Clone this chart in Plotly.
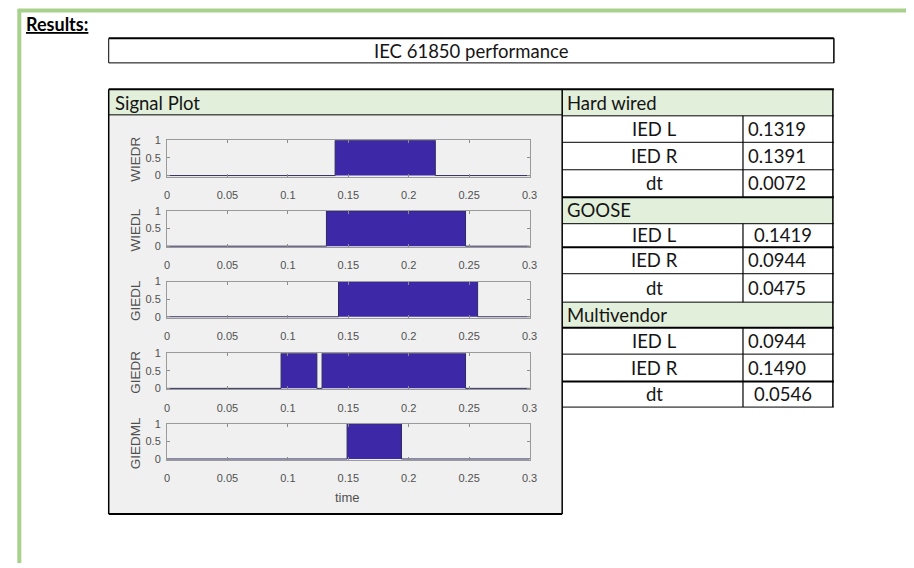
import plotly.graph_objects as go

W, H = 914, 568

# ---- data ----
signal_names = ["WIEDR", "WIEDL", "GIEDL", "GIEDR", "GIEDML"]
wiedr_t = [0, 0.1391, 0.222, 0.3]
wiedr_v = [0, 1, 0, 0]
wiedl_t = [0, 0.1319, 0.247, 0.3]
wiedl_v = [0, 1, 0, 0]
giedl_t = [0, 0.1419, 0.257, 0.3]
giedl_v = [0, 1, 0, 0]
giedr_t = [0, 0.0944, 0.124, 0.1283, 0.247, 0.3]
giedr_v = [0, 1, 0, 1, 0, 0]
giedml_t = [0, 0.1490, 0.194, 0.3]
giedml_v = [0, 1, 0, 0]
x_ticks = [0, 0.05, 0.1, 0.15, 0.2, 0.25, 0.3]
x_tick_labels = ["0", "0.05", "0.1", "0.15", "0.2", "0.25", "0.3"]
y_ticks = [0, 0.5, 1]
y_tick_labels = ["0", "0.5", "1"]

sections = ["Hard wired", "GOOSE", "Multivendor"]
row_labels = ["IED L", "IED R", "dt"]
hard_wired = ["0.1319", "0.1391", "0.0072"]
goose = ["0.1419", "0.0944", "0.0475"]
multivendor = ["0.0944", "0.1490", "0.0546"]

title_text = "IEC 61850 performance"
results_text = "Results:"
panel_title = "Signal Plot"
x_title = "time"

signals = [(wiedr_t, wiedr_v), (wiedl_t, wiedl_v), (giedl_t, giedl_v),
           (giedr_t, giedr_v), (giedml_t, giedml_v)]

# ---- helpers (window pixel -> paper fraction) ----
def px(x):
    return x / W

def py(y):
    return 1 - y / H

BAR = "#3d28a8"
GREEN_FILL = "#e2efda"
FONT = "Lato"
PLOT_FONT = "Liberation Sans"
TXT = "#151515"
AX_TXT = "#505050"
FS = 18.5

fig = go.Figure()
layout = dict(
    width=W, height=H, margin=dict(l=0, r=0, t=0, b=0),
    paper_bgcolor="white", plot_bgcolor="white", showlegend=False,
)
shapes = []
annotations = []

def text(x, y, s, size=FS, xanchor="center", family=FONT, color=TXT, angle=0):
    annotations.append(dict(
        xref="paper", yref="paper", x=px(x), y=py(y), text=s,
        xanchor=xanchor, yanchor="middle", showarrow=False, textangle=angle,
        font=dict(family=family, size=size, color=color),
    ))

plot_left, plot_right = 166, 533
tops = [137, 209, 281, 354, 426]
ph = 37

for i, ((t, v), name) in enumerate(zip(signals, signal_names)):
    k = "" if i == 0 else str(i + 1)
    fig.add_trace(go.Scatter(
        x=t, y=v, mode="lines", line=dict(shape="hv", color="#2e2a60", width=1),
        fill="tozeroy", fillcolor=BAR, xaxis="x" + k, yaxis="y" + k,
        hoverinfo="skip",
    ))
    top = tops[i]
    layout["xaxis" + k] = dict(
        domain=[px(plot_left), px(plot_right)], anchor="y" + k,
        range=[0, 0.3], tickvals=x_ticks, ticktext=x_tick_labels,
        ticks="inside", ticklen=3, tickcolor="#8c8c8c", showline=True,
        linecolor="#9a9a9a", linewidth=1, mirror="ticks", showgrid=False,
        zeroline=False, ticklabelstandoff=8,
        tickfont=dict(family=PLOT_FONT, size=11, color=AX_TXT),
    )
    layout["yaxis" + k] = dict(
        domain=[py(top + ph), py(top)], anchor="x" + k,
        range=[-0.03, 1.0], tickvals=y_ticks, ticktext=y_tick_labels,
        ticks="inside", ticklen=3, tickcolor="#8c8c8c", showline=True,
        linecolor="#9a9a9a", linewidth=1, mirror="ticks", showgrid=False,
        zeroline=False, ticklabelstandoff=3,
        tickfont=dict(family=PLOT_FONT, size=11, color=AX_TXT),
    )
    text(134, top + ph / 2 + 1, name, size=13.5, family=PLOT_FONT, color=AX_TXT, angle=-90)

text(349, 501, x_title, size=13, family=PLOT_FONT, color=AX_TXT)

def rect(x0, y0, x1, y1, fill):
    shapes.append(dict(type="rect", xref="paper", yref="paper",
                       x0=px(x0), x1=px(x1), y0=py(y1), y1=py(y0),
                       fillcolor=fill, layer="below", line=dict(width=0)))

def line(x0, y0, x1, y1, w=1, c="black"):
    shapes.append(dict(type="line", xref="paper", yref="paper",
                       x0=px(x0), x1=px(x1), y0=py(y0), y1=py(y1),
                       line=dict(width=w, color=c), layer="above"))

# outer green frame
line(15, 4.5, 914, 4.5, 4, "#a9d18e")
line(16.5, 3, 16.5, 568, 4, "#a9d18e")

# Results label
text(21, 18.5, "<b><u>" + results_text + "</u></b>", size=18, xanchor="left", color="black")

# title box
line(107, 33, 841, 33, 2)
line(107, 58, 841, 58, 1)
line(107, 33, 107, 58, 1)
line(841, 33, 841, 58, 1.5)
text(474.5, 45.5, title_text)

# signal plot panel
rect(107, 85, 566, 111, GREEN_FILL)
rect(107, 111, 566, 518, "#f0f0f0")
line(107, 85, 841, 85, 2)
line(107, 111, 566, 111, 1)
line(107, 85, 107, 518, 1.5)
line(566, 85, 566, 518, 1.5)
line(107, 518, 566, 518, 2)
text(111, 98.5, panel_title, xanchor="left")

# results table
bounds = [85, 112, 139, 167, 195, 222, 246, 273, 302, 328, 355, 383, 409]
thick = {195, 246, 328, 383}
section_vals = [hard_wired, goose, multivendor]
value_indent = {(1, 0): 6, (2, 2): 6}
for s in range(3):
    r0 = s * 4
    y0, y1 = bounds[r0], bounds[r0 + 1]
    rect(566, y0, 840, y1, GREEN_FILL)
    text(569, (y0 + y1) / 2, sections[s], xanchor="left")
    for r in range(3):
        ya, yb = bounds[r0 + 1 + r], bounds[r0 + 2 + r]
        line(749, ya, 749, yb, 1.2)
        text(659, (ya + yb) / 2, row_labels[r])
        text(752 + value_indent.get((s, r), 0), (ya + yb) / 2,
             section_vals[s][r], xanchor="left")
for b in bounds[1:]:
    line(566, b, 841, b, 2 if b in thick else 1)
line(840, 85, 840, 409, 1.5)

layout["shapes"] = shapes
layout["annotations"] = annotations
fig.update_layout(**layout)
fig.write_html(
    "out.html",
    config={"displayModeBar": False},
    post_script="document.body.style.margin='0px';document.body.style.overflow='hidden';",
)
